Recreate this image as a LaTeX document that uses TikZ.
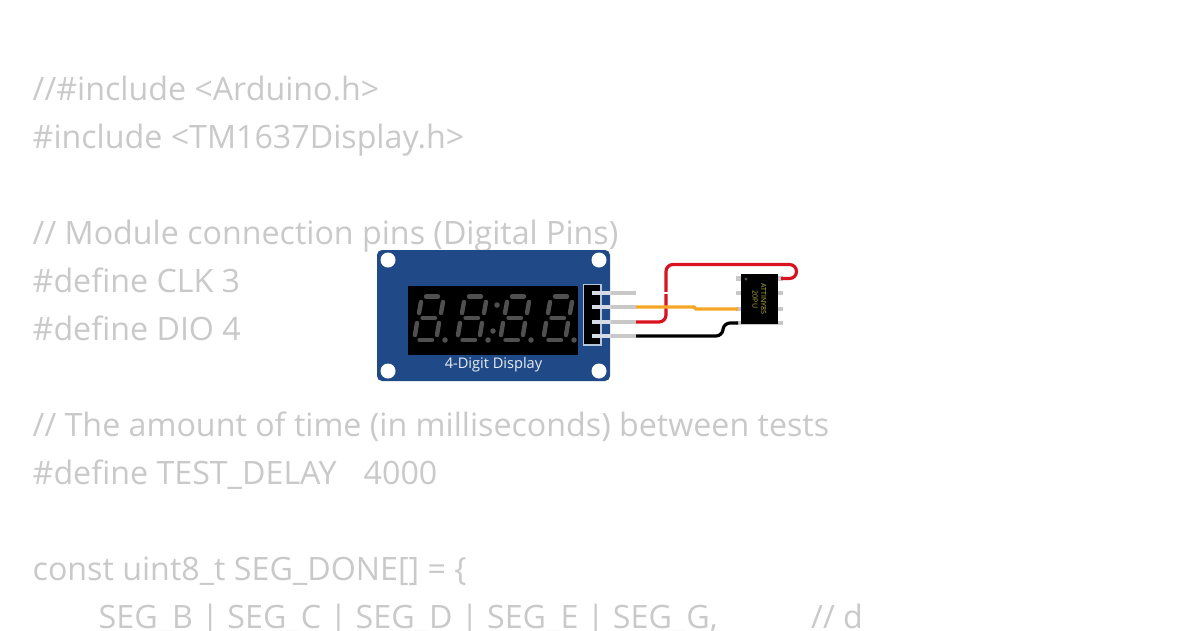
\documentclass[tikz,border=0pt]{standalone}
\usepackage{fontspec}
\setmainfont{Open Sans}
\definecolor{codegray}{HTML}{C9C9C9}
\definecolor{boardblue}{HTML}{1F4A87}
\definecolor{framegray}{HTML}{B4C6DC}
\definecolor{seggray}{HTML}{505050}
\definecolor{pingray}{HTML}{C8C8C8}
\definecolor{pinlight}{HTML}{D5DCE6}
\definecolor{wirered}{HTML}{D8121F}
\definecolor{wireorange}{HTML}{F5A623}
\definecolor{chipyellow}{HTML}{BDB53C}
\tikzset{
  codeline/.style={anchor=base west,inner sep=0pt,text=codegray,font=\fontsize{32.2}{32}\selectfont},
  hole/.style={circle,fill=white,minimum size=15pt,inner sep=0pt},
  seg/.style={draw=seggray,line width=4.4pt,line cap=round},
  segdot/.style={circle,fill=seggray,minimum size=5.5pt,inner sep=0pt},
  pin/.style={draw=pingray,line width=3.6pt},
  chippin/.style={draw=pingray,line width=4.5pt},
  wire/.style={line width=3.2pt,rounded corners=6pt},
}
\begin{document}
\begin{tikzpicture}[x=1pt,y=-1pt]
  \useasboundingbox (0,0) rectangle (1200,630);
  \clip (0,0) rectangle (1200,630);

  % code behind the circuit
  \node[codeline] (l1) at (32.5,100)  {//\#include <Arduino.h>};
  \node[codeline] (l2) at (32.5,148)  {\#include <TM1637Display.h>};
  \node[codeline] (l3) at (32.5,244)  {// Module connection pins (Digital Pins)};
  \node[codeline] (l4) at (32.5,292)  {\#define CLK 3};
  \node[codeline] (l5) at (32.5,340)  {\#define DIO 4};
  \node[codeline] (l6) at (32.5,436)  {// The amount of time (in milliseconds) between tests};
  \node[codeline] (l7) at (32.5,484)  {\#define TEST\_DELAY};
  \node[codeline] (l8) at (363.5,484) {4000};
  \node[codeline] (l9) at (32.5,580)  {const uint8\_t SEG\_DONE[] = \{};
  \node[codeline] (l10) at (98.5,628) {SEG\_B | SEG\_C | SEG\_D | SEG\_E | SEG\_G,};
  \node[codeline] (l11) at (811,628) {// d};

  % display board
  \fill[boardblue,rounded corners=5pt] (377,250) rectangle (610,381);
  \foreach \name/\x/\y in {h1/388/260,h2/599/260,h3/388/371,h4/599/371}
    \node[hole] (\name) at (\x,\y) {};
  \fill[black] (408,286) rectangle (578,355);
  \foreach \x in {0,43,86,129} {
    \begin{scope}[xshift=\x pt]
      \draw[seg] (426,296.5) -- (438,296.5);
      \draw[seg] (422.5,318) -- (435,318);
      \draw[seg] (419.5,340) -- (432,340);
      \draw[seg] (421,302) -- (419,313);
      \draw[seg] (443,302) -- (441,313);
      \draw[seg] (417,323) -- (415,335);
      \draw[seg] (439,323) -- (437,335);
      \node[segdot] at (445,340) {};
    \end{scope}
  }
  \node[segdot] (colon1) at (497,305) {};
  \node[segdot] (colon2) at (493,331) {};
  \node[text=white!90!boardblue,font=\fontsize{14.6}{14}\selectfont,inner sep=0pt] (title) at (493.5,364.5) {4-Digit Display};

  % header and pins
  \draw[framegray,fill=black,line width=1.2pt] (583.5,284.5) rectangle (601,345);
  \foreach \name/\y in {p1/293,p2/307,p3/322,p4/336} {
    \coordinate (\name) at (636,\y);
    \draw[pin] (611,\y) -- (\name);
    \draw[pinlight,line width=3.6pt] (592,\y) -- (611,\y);
  }

  % chip
  \foreach \name/\y in {a1/278.5,a2/293,a3/309,a4/323} {
    \coordinate (\name) at (738,\y);
    \coordinate (b\name) at (781,\y);
    \draw[chippin] (736,\y) -- (783,\y);
  }
  \node[fill=black,minimum width=37pt,minimum height=50pt,inner sep=0pt] (chip) at (759.5,299) {};
  \fill[seggray] (746,279) circle (1.6pt);
  \node[rotate=-90,text=chipyellow,font=\fontsize{7}{8}\selectfont,inner sep=0pt] (chipname) at (763.5,299) {ATTINY85};
  \node[rotate=-90,text=chipyellow,font=\fontsize{7}{8}\selectfont,inner sep=0pt] (chipcode) at (755,299.5) {20PU};

  % wires
  \draw[wire,wirered,rounded corners=7pt] (p3) -- (666,322) -- (666,264.5) -- (796.5,264.5) -- (796.5,278.5) -- (ba1);
  \draw[white,line width=3.2pt] (666,291.5) -- (666,294);
  \draw[wire,wireorange,rounded corners=1pt] (p2) -- (695,307) -- (695,309) -- (a3);
  \draw[wire,black] (p4) -- (722,336) -- (724,323) -- (a4);

\end{tikzpicture}
\end{document}
